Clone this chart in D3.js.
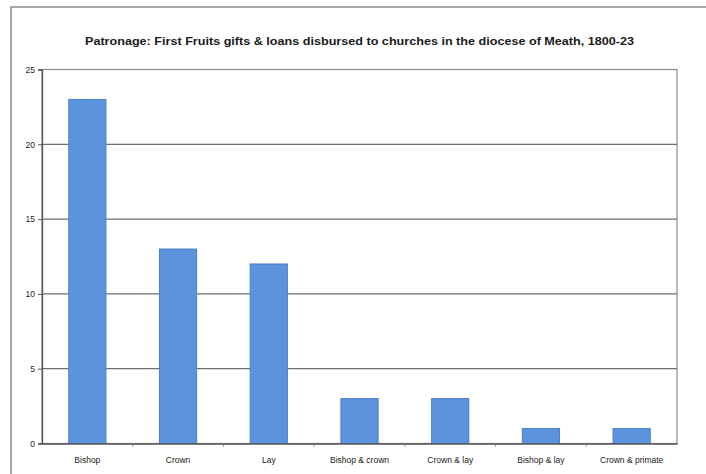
<!DOCTYPE html>
<html>
<head>
<meta charset="utf-8">
<script src="https://cdn.jsdelivr.net/npm/d3@7"></script>
<style>
  html, body { margin: 0; padding: 0; background: #fff; }
  svg { display: block; }
</style>
</head>
<body>
<svg id="chart" width="706" height="474"></svg>
<script>
const categories = ["Bishop", "Crown", "Lay", "Bishop & crown", "Crown & lay", "Bishop & lay", "Crown & primate"];
const values = [23, 13, 12, 3, 3, 1, 1];
const yTicks = [0, 5, 10, 15, 20, 25];
const title = "Patronage: First Fruits gifts & loans disbursed to churches in the diocese of Meath, 1800-23";

const svg = d3.select("#chart");
const W = 706, H = 474;
const m = { left: 42, right: 29, top: 69.5, bottom: 30.5 };
const plotW = W - m.left - m.right;
const plotH = H - m.top - m.bottom;

// outer frame (scanned page)
svg.append("path")
  .attr("d", `M11,474 L11,7 L706,7`)
  .attr("fill", "none").attr("stroke", "#8a8a8a").attr("stroke-width", 1.5);

const x = d3.scaleBand().domain(categories).range([m.left, m.left + plotW]).paddingInner(0.59).paddingOuter(0.295);
const xb = d3.scaleBand().domain(categories).range([m.left, m.left + plotW]);
const y = d3.scaleLinear().domain([0, 25]).range([m.top + plotH, m.top]);

// title
svg.append("text")
  .attr("x", m.left + plotW / 2).attr("y", 44.5)
  .attr("text-anchor", "middle")
  .attr("font-family", "Liberation Sans, Arial, sans-serif")
  .attr("font-weight", "bold").attr("font-size", 10.5)
  .attr("fill", "#1a1a1a")
  .attr("textLength", 549).attr("lengthAdjust", "spacingAndGlyphs")
  .text(title);

// plot border (top/right)
svg.append("rect")
  .attr("x", m.left).attr("y", m.top).attr("width", plotW).attr("height", plotH)
  .attr("fill", "none").attr("stroke", "#8c8c8c").attr("stroke-width", 1.2);

// gridlines
svg.append("g").selectAll("line").data(yTicks.filter(t => t > 0 && t < 25)).join("line")
  .attr("x1", m.left).attr("x2", m.left + plotW)
  .attr("y1", d => y(d)).attr("y2", d => y(d))
  .attr("stroke", "#6e6e6e").attr("stroke-width", 1.2);

// bars
svg.append("g").selectAll("rect").data(values).join("rect")
  .attr("x", (d, i) => x(categories[i]))
  .attr("width", x.bandwidth())
  .attr("y", d => y(d))
  .attr("height", d => y(0) - y(d))
  .attr("fill", "#5b93dc")
  .attr("stroke", "#4a7fc4").attr("stroke-width", 1);

// y axis
const yAxis = d3.axisLeft(y).tickValues(yTicks).tickSize(4).tickPadding(3);
const gy = svg.append("g").attr("transform", `translate(${m.left},0)`).call(yAxis);
gy.select(".domain").attr("stroke", "#555").attr("stroke-width", 1.3);
gy.selectAll(".tick line").attr("stroke", "#555");
gy.selectAll("text").attr("font-family", "Liberation Sans, Arial, sans-serif")
  .attr("font-size", 8.5).attr("fill", "#222");

// x axis
const gx = svg.append("g").attr("transform", `translate(0,${y(0)})`)
  .call(d3.axisBottom(x).tickSize(0).tickPadding(13));
gx.select(".domain").attr("stroke", "#555").attr("stroke-width", 1.3);
gx.selectAll("text").attr("font-family", "Liberation Sans, Arial, sans-serif")
  .attr("font-size", 8.5).attr("fill", "#1a1a1a");

// boundary ticks on x axis
svg.append("g").selectAll("line").data(categories.slice(1)).join("line")
  .attr("x1", d => xb(d)).attr("x2", d => xb(d))
  .attr("y1", y(0)).attr("y2", y(0) + 3)
  .attr("stroke", "#777");
</script>
</body>
</html>
